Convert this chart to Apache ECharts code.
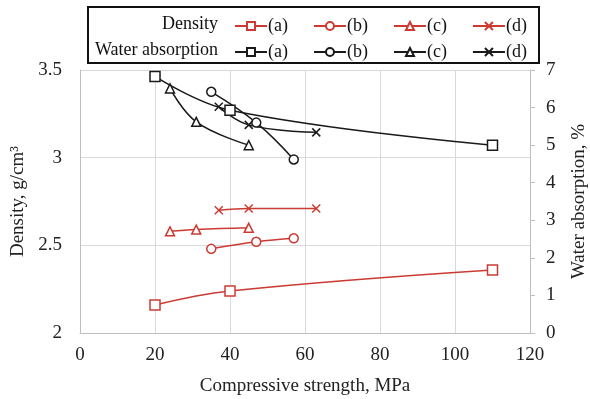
<!DOCTYPE html>
<html>
<head>
<meta charset="utf-8">
<script src="https://cdn.jsdelivr.net/npm/echarts@6/dist/echarts.min.js"></script>
<style>
  html, body { margin: 0; padding: 0; background: #fff; }
  #chart { width: 590px; height: 399px; }
</style>
</head>
<body>
<div id="chart"></div>
<script>
// 数据：[抗压强度 MPa, 数值]
const densityA = [[20, 2.16], [40, 2.24], [110, 2.36]];
const densityB = [[35, 2.48], [47, 2.52], [57, 2.54]];
const densityC = [[24, 2.58], [31, 2.59], [45, 2.60]];
const densityD = [[37, 2.70], [45, 2.71], [63, 2.71]];

const waterA = [[20, 6.83], [40, 5.93], [110, 5.0]];
const waterB = [[35, 6.42], [47, 5.60], [57, 4.62]];
const waterC = [[24, 6.51], [31, 5.62], [45, 5.0]];
const waterD = [[37, 6.02], [45, 5.54], [63, 5.34]];

const groupLabels = ['(a)', '(b)', '(c)', '(d)'];
const xTicks = [0, 20, 40, 60, 80, 100, 120];

const RED = '#cc3b33';
const BLACK = '#1a1a1a';
const FONT = 'Liberation Serif';
const crossPath = 'path://M0,0L10,10M10,0L0,10';
const symbols = ['rect', 'circle', 'triangle', crossPath];

const makeSeries = (name, data, color, symbol, yIndex) => ({
  name: name,
  type: 'line',
  yAxisIndex: yIndex,
  data: data,
  smooth: 0.4,
  symbol: symbol,
  symbolSize: symbol === crossPath ? 8 : (symbol === 'rect' ? 10 : 9),
  lineStyle: { color: color, width: 1.5 },
  itemStyle: { color: symbol === crossPath ? color : '#fff', borderColor: color, borderWidth: 1.5 },
  color: color,
  z: 3
});

const densitySets = [densityA, densityB, densityC, densityD];
const waterSets = [waterA, waterB, waterC, waterD];
const densityNames = groupLabels.map(l => 'Density ' + l);
const waterNames = groupLabels.map(l => 'Water ' + l);

const series = [];
densitySets.forEach((d, i) => series.push(makeSeries(densityNames[i], d, RED, symbols[i], 0)));
waterSets.forEach((d, i) => series.push(makeSeries(waterNames[i], d, BLACK, symbols[i], 1)));

const legendBase = {
  orient: 'horizontal',
  itemWidth: 32,
  itemHeight: 10,
  itemGap: 25,
  left: 229,
  formatter: name => name.slice(-3),
  textStyle: { fontFamily: FONT, fontSize: 18, color: '#111', padding: [0, 0, 0, -4] },
  selectedMode: false
};

const option = {
  animation: false,
  backgroundColor: '#fff',
  grid: { left: 80, right: 60, top: 70, bottom: 66, outerBoundsMode: 'none', containLabel: false },
  legend: [
    Object.assign({}, legendBase, { top: 12, data: densityNames }),
    Object.assign({}, legendBase, { top: 38, data: waterNames })
  ],
  graphic: [
    {
      type: 'rect',
      shape: { x: 88, y: 7, width: 451, height: 56 },
      style: { fill: 'none', stroke: '#111', lineWidth: 2 }
    },
    {
      type: 'text', x: 218, y: 24,
      style: { text: 'Density', fontFamily: FONT, fontSize: 18, fill: '#111', align: 'right', verticalAlign: 'middle' }
    },
    {
      type: 'text', x: 218, y: 50,
      style: { text: 'Water absorption', fontFamily: FONT, fontSize: 18, fill: '#111', align: 'right', verticalAlign: 'middle' }
    }
  ],
  xAxis: {
    type: 'value',
    min: xTicks[0],
    max: xTicks[xTicks.length - 1],
    interval: 20,
    name: 'Compressive strength, MPa',
    nameLocation: 'middle',
    nameGap: 44,
    nameTextStyle: { fontFamily: FONT, fontSize: 19, color: '#222' },
    axisLine: { show: true, lineStyle: { color: '#bfbfbf', width: 1 } },
    axisTick: { show: false },
    axisLabel: { fontFamily: FONT, fontSize: 19, color: '#222', margin: 13 },
    splitLine: { show: true, lineStyle: { color: '#d9d9d9', width: 1 } }
  },
  yAxis: [
    {
      type: 'value',
      position: 'left',
      min: 2,
      max: 3.5,
      interval: 0.5,
      name: 'Density, g/cm³',
      nameLocation: 'middle',
      nameRotate: 90,
      nameGap: 52,
      nameTextStyle: { fontFamily: FONT, fontSize: 19, color: '#222' },
      axisLine: { show: true, lineStyle: { color: '#bfbfbf', width: 1 } },
      axisTick: { show: false },
      axisLabel: { fontFamily: FONT, fontSize: 19, color: '#222', margin: 18 },
      splitLine: { show: true, lineStyle: { color: '#d9d9d9', width: 1 } }
    },
    {
      type: 'value',
      position: 'right',
      min: 0,
      max: 7,
      interval: 1,
      name: 'Water absorption, %',
      nameLocation: 'middle',
      nameRotate: 90,
      nameGap: 40,
      nameTextStyle: { fontFamily: FONT, fontSize: 19, color: '#222' },
      axisLine: { show: true, lineStyle: { color: '#bfbfbf', width: 1 } },
      axisTick: { show: true, inside: false, length: 5, lineStyle: { color: '#bfbfbf' } },
      axisLabel: { fontFamily: FONT, fontSize: 19, color: '#222', margin: 16 },
      splitLine: { show: false }
    }
  ],
  series: series
};

const chart = echarts.init(document.getElementById('chart'), null, { renderer: 'canvas' });
chart.setOption(option);
</script>
</body>
</html>
